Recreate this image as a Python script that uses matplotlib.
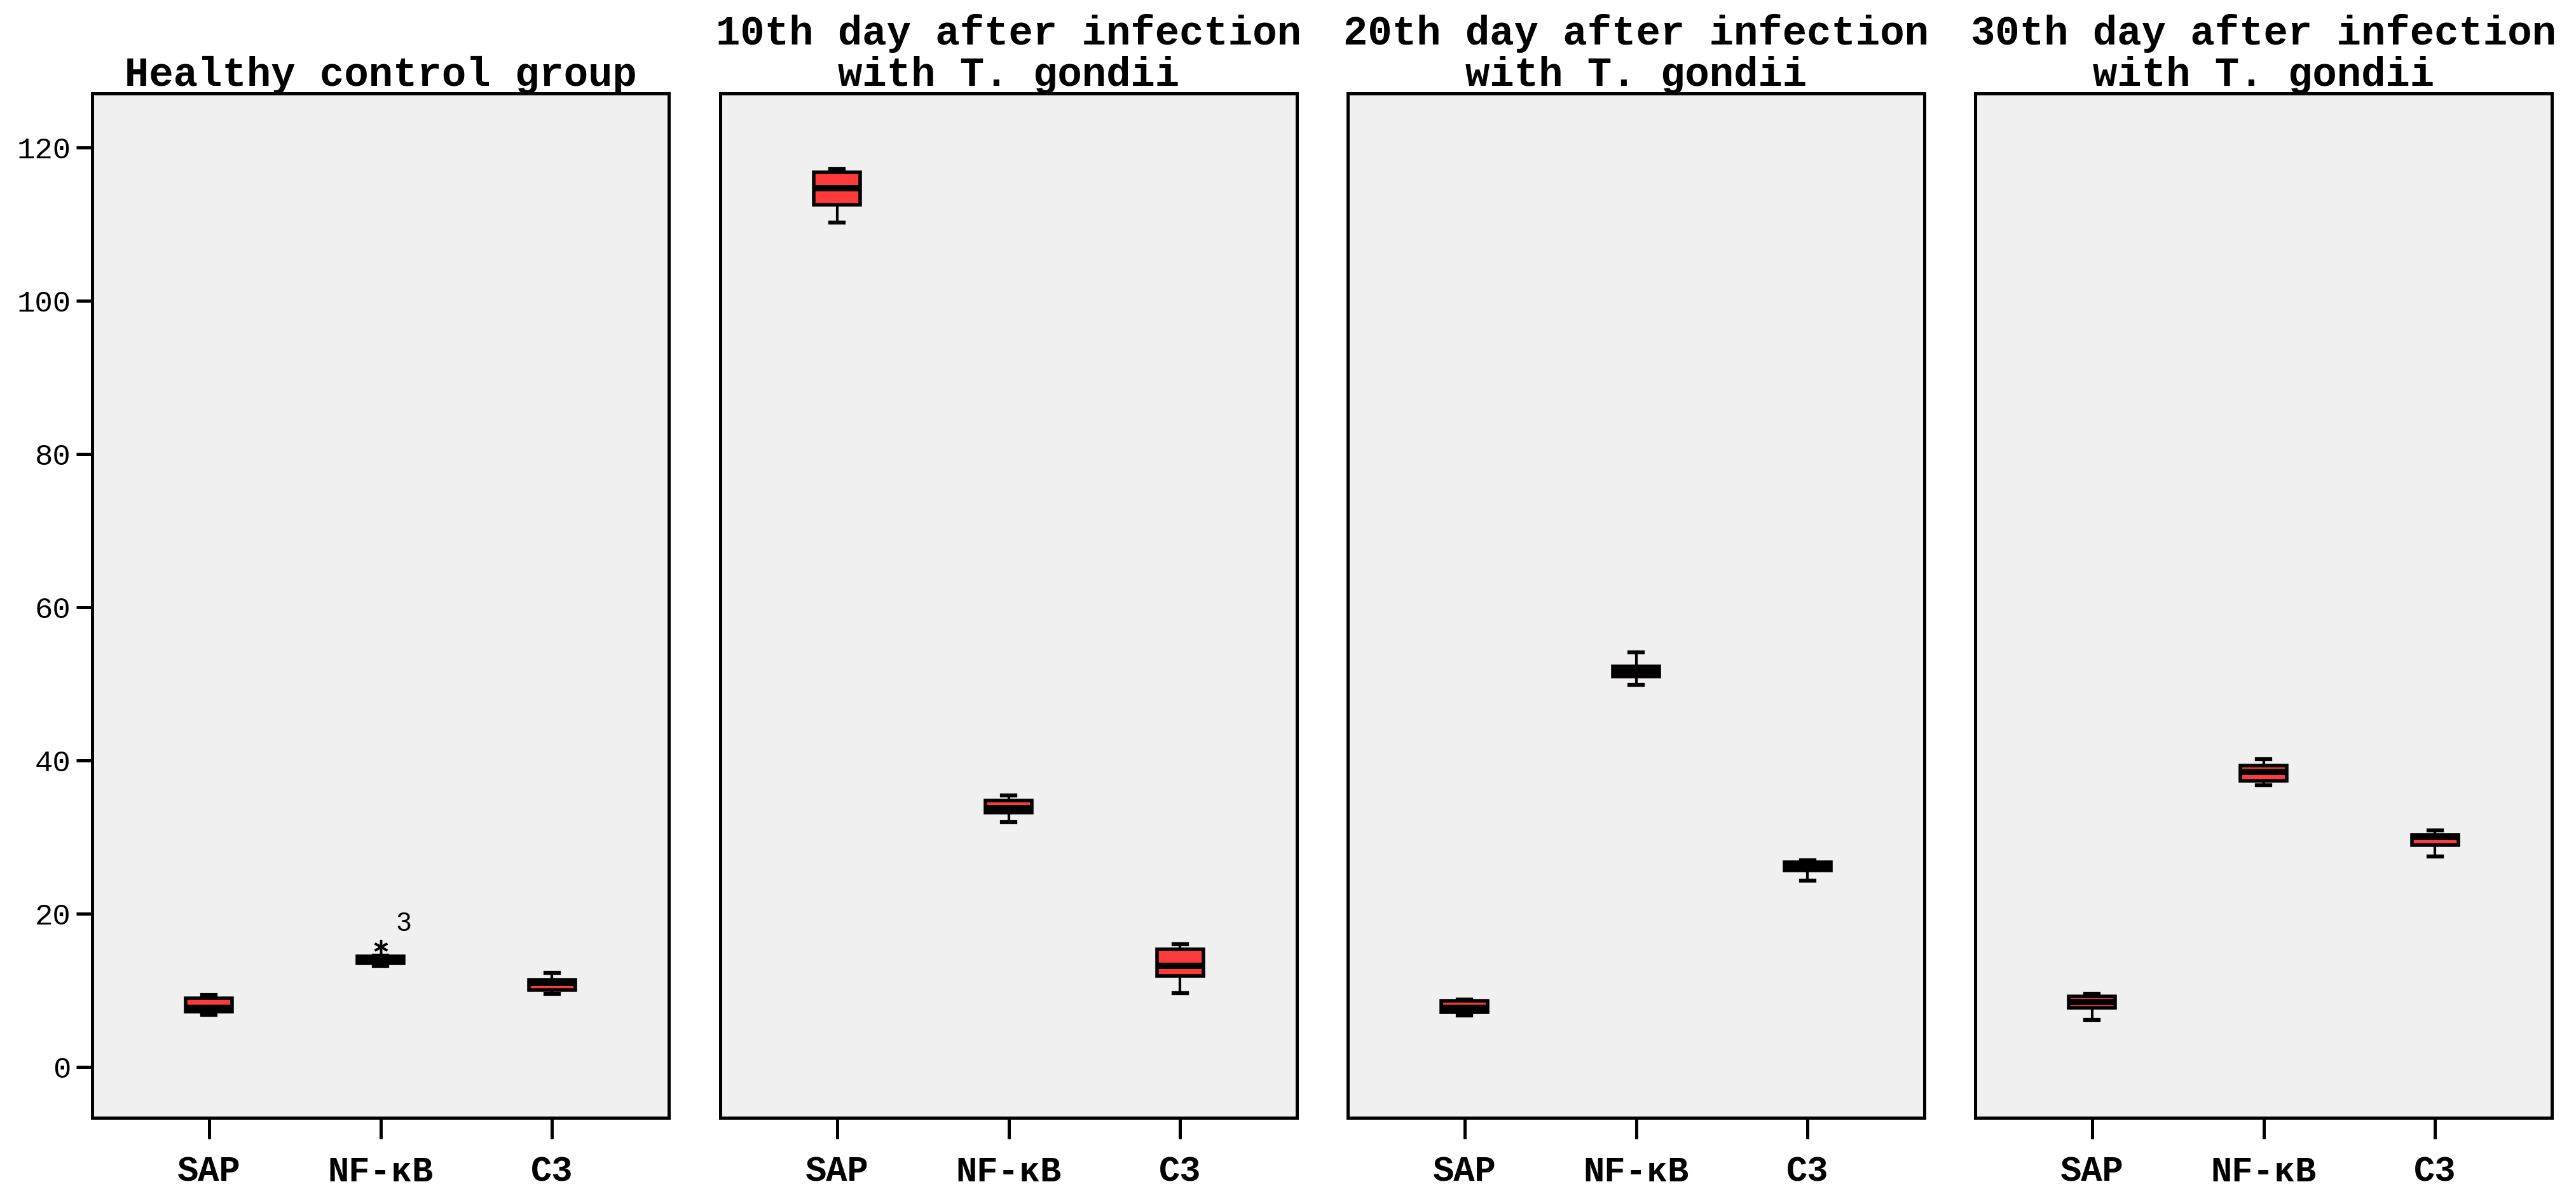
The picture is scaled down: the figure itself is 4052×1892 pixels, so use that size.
import numpy as np
import matplotlib
matplotlib.use("Agg")
import matplotlib.pyplot as plt

# panel titles and the three markers measured in each group
groups = ["Healthy control group",
          "10th day after infection\nwith T. gondii",
          "20th day after infection\nwith T. gondii",
          "30th day after infection\nwith T. gondii"]
markers = ["SAP", "NF-\u03baB", "C3"]

# box statistics, one row per group: SAP, NF-kB, C3
whis_lo = [[6.8, 13.2, 9.55], [110.2, 31.95, 9.65], [6.75, 49.9, 24.3], [6.15, 36.75, 27.5]]
q1 = [[7.2, 13.55, 10.05], [112.5, 33.2, 11.9], [7.15, 50.95, 25.65], [7.75, 37.35, 28.95]]
med = [[7.7, 14.0, 10.95], [114.7, 33.8, 13.2], [7.7, 51.6, 26.2], [8.5, 38.5, 30.0]]
q3 = [[9.0, 14.45, 11.35], [116.8, 34.75, 15.35], [8.65, 52.3, 26.75], [9.25, 39.35, 30.3]]
whis_hi = [[9.4, 14.5, 12.3], [117.2, 35.45, 16.0], [8.8, 54.1, 27.0], [9.55, 40.2, 30.9]]

# extreme value in the control group (NF-kB), case number 3
extreme_group, extreme_marker, extreme_val, extreme_case = 0, 1, 15.7, "3"

yticks = [0, 20, 40, 60, 80, 100, 120]

W, H = 4052, 1892
fig = plt.figure(figsize=(W / 100, H / 100), dpi=100)

mono = "Liberation Mono"
red = "#ff3a3a"
lefts = [145, 1133, 2120, 3107]
ax_w, ax_top, ax_bot = 907, 147, 1758

for g, title in enumerate(groups):
    ax = fig.add_axes([lefts[g] / W, 1 - ax_bot / H, ax_w / W, (ax_bot - ax_top) / H])
    ax.set_facecolor("#f0f0f0")
    stats = []
    for m in range(3):
        stats.append(dict(whislo=whis_lo[g][m], q1=q1[g][m], med=med[g][m],
                          q3=q3[g][m], whishi=whis_hi[g][m], fliers=[]))
    ax.bxp(stats, positions=range(3), widths=0.27, capwidths=0.075,
           patch_artist=True, showfliers=False,
           boxprops=dict(facecolor=red, edgecolor="black", linewidth=4),
           medianprops=dict(color="black", linewidth=7.2, solid_capstyle="butt"),
           whiskerprops=dict(color="black", linewidth=3),
           capprops=dict(color="black", linewidth=4.5))
    if g == extreme_group:
        ax.plot(extreme_marker, extreme_val, marker=(6, 2, 0), ms=16, mew=2.5,
                color="black", ls="none")
        ax.annotate(extreme_case, (extreme_marker, extreme_val), xytext=(26, 26),
                    textcoords="offset points", ha="center", va="center",
                    fontsize=30, family="Liberation Sans")

    ax.set_xlim(-0.68, 2.68)
    ax.set_ylim(-6.64, 127.05)
    ax.set_xticks(range(3))
    ax.set_xticklabels(markers, family=mono, fontweight="bold", fontsize=40)
    ax.tick_params(axis="x", length=24, width=3.6, pad=19)
    if g == 0:
        ax.set_yticks(yticks)
        ax.set_yticklabels([str(t) for t in yticks], family=mono, fontsize=34)
        ax.tick_params(axis="y", length=18, width=3.6, pad=6)
    else:
        ax.set_yticks([])
    for s in ax.spines.values():
        s.set_linewidth(3.6)
    # fixed y so the title sits as low as in the original
    ax.set_title(title, family=mono, fontweight="bold", fontsize=46,
                 y=1.0, pad=8.6, linespacing=1.1)

fig.savefig("out.png", dpi=100, facecolor="white")
